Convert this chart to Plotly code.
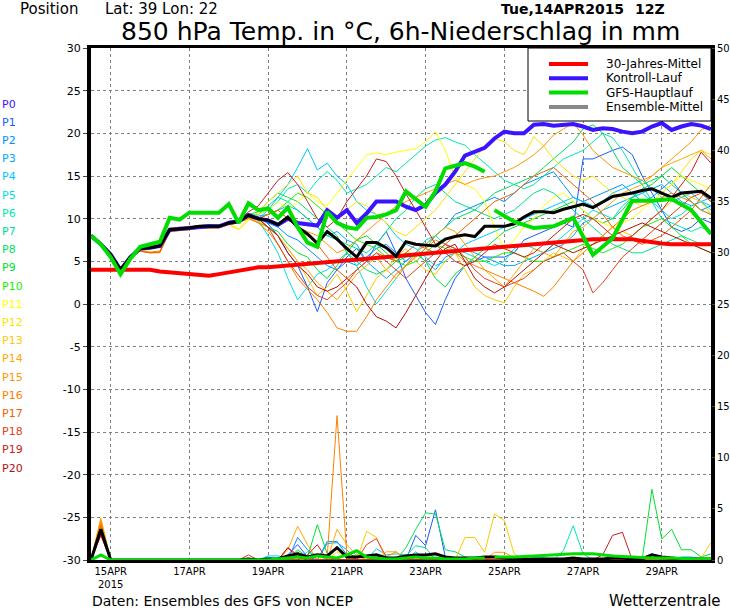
from datetime import datetime, timedelta

import plotly.graph_objects as go

# GFS ensemble run 14APR2015 12Z, 6-hourly values (64 steps)
run_start = datetime(2015, 4, 14, 12)
n_steps = 64

# 30-year climatology (850 hPa temperature)
t_clim = [4.0, 4.0, 4.0, 4.0, 4.0, 4.1, 4.0, 3.8, 3.7, 3.5, 3.5, 3.3, 3.3, 3.5, 3.7, 4.0,
          4.1, 4.3, 4.3, 4.4, 4.5, 4.5, 4.6, 4.7, 4.8, 4.9, 5.0, 5.1, 5.2, 5.3, 5.4, 5.6,
          5.7, 5.8, 5.9, 6.0, 6.1, 6.2, 6.3, 6.4, 6.5, 6.6, 6.7, 6.8, 6.9, 7.0, 7.1, 7.2,
          7.3, 7.4, 7.5, 7.6, 7.6, 7.6, 7.6, 7.6, 7.4, 7.2, 7.1, 7.0, 7.0, 7.0, 7.0, 7.0]

# ensemble mean
t_mean = [8.0, 7.0, 5.8, 4.0, 5.5, 6.5, 6.6, 6.8, 8.7, 8.8, 8.9, 9.1, 9.1, 9.1, 9.5, 9.7,
          10.4, 10.0, 9.8, 9.3, 10.2, 9.0, 8.2, 7.1, 8.5, 7.6, 6.5, 5.5, 7.2, 7.2, 6.6, 5.6,
          7.3, 7.0, 6.9, 6.8, 7.6, 7.9, 8.1, 7.9, 9.1, 9.1, 9.1, 9.4, 10.2, 10.8, 10.8, 10.7,
          11.1, 11.4, 11.7, 11.3, 12.0, 12.6, 12.8, 13.0, 13.3, 13.5, 13.0, 12.5, 13.0, 13.1, 13.2, 12.4]
rain_mean = [0.0, 3.0, 0.0, 0.0, 0.0, 0.0, 0.0, 0.0, 0.0, 0.0, 0.0, 0.0, 0.0, 0.0, 0.0, 0.0,
             0.1, 0.0, 0.1, 0.1, 0.4, 0.6, 0.3, 0.5, 0.4, 1.2, 0.3, 0.3, 0.4, 0.5, 0.2, 0.2,
             0.4, 0.5, 0.5, 0.6, 0.3, 0.2, 0.2, 0.2, 0.3, 0.3, 0.2, 0.1, 0.1, 0.1, 0.1, 0.1,
             0.1, 0.2, 0.1, 0.1, 0.1, 0.2, 0.2, 0.1, 0.1, 0.5, 0.3, 0.2, 0.1, 0.1, 0.1, 0.1]

# control run (P0)
t_control = [8.0, 7.0, 5.8, 4.0, 5.5, 6.5, 6.6, 6.8, 8.7, 8.8, 8.9, 9.1, 9.1, 9.1, 9.5, 9.7,
             10.4, 10.0, 9.8, 9.3, 10.0, 9.5, 9.4, 9.2, 11.0, 10.1, 11.0, 9.5, 10.6, 12.0, 12.0, 12.0,
             11.4, 11.0, 11.6, 13.0, 14.0, 15.5, 17.4, 17.8, 18.3, 19.4, 20.2, 20.0, 20.0, 21.0, 21.1, 20.9,
             21.0, 21.1, 20.8, 20.4, 20.6, 20.5, 20.2, 20.0, 20.2, 20.8, 21.2, 20.4, 20.8, 21.1, 20.9, 20.5]

# GFS operational run: 6-hourly up to 240h, then 12-hourly from 246h
t_gfs = [8.0, 7.0, 5.5, 3.5, 5.3, 6.7, 7.0, 7.3, 10.1, 9.9, 10.7, 10.7, 10.7, 10.7, 11.7, 9.5,
         11.8, 11.0, 11.2, 10.1, 11.3, 9.0, 7.2, 6.7, 10.8, 9.5, 9.0, 8.8, 10.1, 10.2, 10.5, 11.0,
         13.2, 12.3, 11.4, 13.2, 15.9, 16.2, 16.5, 16.1, 15.5]
rain_gfs = [0.0, 0.5, 0.0, 0.0, 0.0, 0.0, 0.0, 0.0, 0.0, 0.0, 0.0, 0.0, 0.0, 0.0, 0.0, 0.0,
            0.0, 0.0, 0.0, 0.1, 0.2, 0.3, 0.2, 0.4, 0.3, 0.2, 0.5, 0.9, 0.3, 0.2, 0.1, 0.1,
            0.2, 0.3, 0.2, 0.2, 0.1, 0.1, 0.1, 0.2, 0.2]
t_gfs_ext = [11.0, 9.65, 8.9, 9.1, 10.1, 5.75, 7.7, 12.1, 12.1, 12.3, 11.0, 8.2]
rain_gfs_ext = [0.3, 0.3, 0.4, 0.5, 0.6, 0.6, 0.4, 0.3, 0.2, 0.2, 0.1, 0.1]

# ensemble members P1..P20 (temperature)
t_p1 = [8.0, 7.0, 5.9, 4.1, 5.6, 6.6, 6.7, 6.9, 8.8, 8.9, 9.0, 9.2, 9.3, 9.2, 9.7, 9.9, 10.6,
        10.2, 9.4, 8.0, 6.0, 4.5, 2.0, -0.9, 2.5, 4.0, 5.5, 6.5, 5.0, 7.0, 8.5, 6.0, 3.0, 1.0, -1.0, -2.4, 0.5, 3.0, 4.5, 5.0, 5.5,
        5.5, 5.5, 6.0, 7.5, 8.0, 8.5, 9.0, 9.5, 9.0, 17.0, 17.0, 17.5, 18.0, 18.4, 17.5, 15.0, 13.0, 11.0, 9.0, 8.5, 9.0, 10.0, 9.5]
t_p2 = [7.9, 6.9, 5.7, 3.9, 5.4, 6.4, 6.5, 6.7, 8.6, 8.7, 8.8, 9.0, 9.0, 9.0, 9.4, 9.6, 10.3,
        10.0, 9.5, 9.0, 8.0, 7.5, 6.5, 5.5, 4.5, 4.0, 5.0, 4.5, 5.5, 6.5, 7.0, 6.0, 5.0, 6.0, 7.0, 8.0, 9.0, 10.5, 11.0, 11.5, 12.0,
        12.5, 12.0, 13.0, 14.0, 14.5, 15.0, 15.5, 14.0, 12.5, 12.0, 12.5, 13.0, 13.5, 14.0, 13.0, 12.0, 12.5, 13.5, 14.5, 13.0, 12.0, 11.0, 11.5]
t_p3 = [8.1, 7.1, 5.8, 4.0, 5.5, 6.5, 6.6, 6.8, 8.7, 8.8, 8.9, 9.1, 9.2, 9.1, 9.6, 9.8, 10.5,
        10.3, 10.5, 11.0, 11.5, 11.0, 10.0, 9.0, 8.0, 8.5, 7.5, 7.0, 5.0, 4.0, 3.0, 4.0, 5.0, 6.0, 5.0, 4.0, 5.5, 6.0, 6.5, 6.0, 5.5,
        5.0, 4.5, 4.5, 5.0, 5.5, 6.0, 6.5, 7.0, 8.0, 9.5, 10.0, 11.0, 11.5, 12.0, 12.5, 13.0, 13.5, 14.0, 13.0, 12.0, 11.5, 12.0, 12.5]
t_p4 = [8.0, 7.0, 5.8, 4.0, 5.5, 6.6, 6.7, 6.9, 8.8, 8.9, 9.0, 9.1, 9.1, 9.1, 9.5, 9.7, 10.3,
        10.0, 11.0, 12.5, 14.0, 16.0, 18.2, 15.7, 16.5, 15.0, 14.0, 12.0, 11.0, 10.5, 9.5, 8.0, 7.0, 6.5, 5.5, 4.5, 5.0, 6.0, 7.0, 7.5, 8.0,
        8.5, 9.0, 9.5, 10.0, 10.5, 11.0, 11.5, 12.0, 12.5, 12.0, 11.5, 12.0, 13.0, 13.5, 14.0, 14.5, 13.5, 12.5, 12.0, 12.5, 13.0, 12.0, 11.5]
t_p5 = [8.0, 7.0, 5.8, 4.1, 5.6, 6.6, 6.7, 6.8, 8.7, 8.8, 8.9, 9.1, 9.1, 9.2, 9.6, 9.8, 10.4,
        9.8, 8.0, 6.0, 3.0, 0.5, 2.0, 3.5, 4.0, 5.0, 6.0, 4.5, 2.0, 0.0, 1.5, 3.0, 4.5, 6.0, 7.5, 8.0, 7.0, 6.5, 6.0, 5.5, 5.0,
        4.5, 5.0, 6.5, 7.0, 6.5, 6.0, 7.0, 8.0, 9.0, 10.0, 11.0, 10.5, 10.0, 11.5, 12.5, 13.0, 12.0, 11.0, 10.0, 10.5, 11.5, 12.0, 11.0]
t_p6 = [8.0, 7.0, 5.8, 4.0, 5.5, 6.5, 6.6, 6.8, 8.7, 8.8, 8.9, 9.1, 9.1, 9.1, 9.5, 9.7, 10.4,
        10.5, 11.0, 12.0, 13.5, 14.0, 13.0, 14.5, 15.5, 14.5, 13.0, 13.5, 14.0, 15.0, 16.0, 15.5, 16.5, 17.5, 18.5, 19.2, 19.5, 19.0, 18.6, 17.5, 16.5,
        15.5, 14.5, 14.0, 13.5, 14.0, 15.0, 16.0, 17.0, 17.5, 18.0, 19.0, 20.0, 19.5, 18.0, 16.0, 14.0, 12.0, 10.0, 9.5, 9.0, 8.5, 9.0, 8.5]
t_p7 = [8.0, 7.0, 5.8, 4.0, 5.5, 6.5, 6.6, 6.7, 8.6, 8.7, 8.8, 9.0, 9.0, 9.0, 9.4, 9.6, 10.3,
        10.5, 11.5, 12.5, 12.0, 11.0, 10.0, 9.0, 8.0, 7.5, 7.0, 6.5, 6.0, 7.0, 8.5, 10.0, 11.0, 12.5, 13.5, 14.0, 13.0, 12.0, 11.5, 11.0, 10.5,
        10.0, 10.5, 11.0, 12.0, 13.0, 13.5, 13.0, 12.0, 11.0, 10.0, 9.0, 8.0, 7.0, 6.5, 6.0, 6.0, 6.5, 7.0, 7.5, 8.0, 7.5, 7.0, 7.0]
t_p8 = [8.0, 7.0, 5.8, 4.0, 5.6, 6.6, 6.7, 6.9, 8.8, 8.9, 9.0, 9.2, 9.2, 9.2, 9.6, 9.8, 10.5,
        10.8, 12.0, 13.0, 12.5, 12.0, 11.0, 10.0, 9.0, 8.0, 6.0, 5.0, 4.0, 3.5, 4.0, 5.0, 6.0, 5.5, 6.5, 8.0, 9.0, 10.0, 10.5, 11.0, 12.0,
        13.0, 13.5, 14.0, 14.5, 15.0, 16.0, 17.0, 18.0, 19.0, 20.5, 21.0, 20.0, 18.0, 16.0, 15.0, 14.0, 14.5, 15.0, 14.0, 13.0, 12.0, 11.0, 10.5]
t_p9 = [7.9, 6.9, 5.7, 3.9, 5.4, 6.4, 6.5, 6.7, 8.6, 8.7, 8.8, 9.0, 9.0, 9.0, 9.4, 9.6, 10.2,
        9.5, 9.0, 8.5, 7.0, 6.0, 5.5, 4.0, 3.0, 4.5, 6.0, 7.5, 8.0, 7.0, 6.0, 5.0, 5.5, 6.0, 5.0, 3.0, 2.0, 3.5, 4.5, 5.5, 6.5,
        7.5, 8.5, 9.0, 9.5, 10.0, 10.5, 11.0, 11.5, 12.0, 11.0, 10.0, 9.5, 10.0, 11.0, 12.5, 13.5, 14.0, 15.0, 16.0, 15.0, 14.0, 13.0, 12.0]
t_p10 = [8.0, 7.0, 5.8, 4.0, 5.5, 6.5, 6.6, 6.8, 8.7, 8.8, 8.9, 9.1, 9.1, 9.1, 9.5, 9.7, 10.4,
         10.0, 10.5, 11.0, 12.0, 13.0, 12.5, 11.5, 10.5, 9.5, 8.5, 7.5, 7.0, 6.5, 5.5, 5.0, 4.5, 5.0, 6.0, 7.0, 6.5, 6.0, 5.5, 5.0, 5.0,
         5.5, 6.0, 6.0, 5.5, 5.0, 5.0, 5.5, 6.0, 6.5, 7.0, 6.5, 6.0, 6.5, 7.0, 8.0, 9.0, 9.5, 10.0, 9.0, 8.0, 7.0, 6.5, 6.0]
t_p11 = [8.1, 7.1, 5.9, 4.1, 5.6, 6.7, 6.8, 7.0, 8.8, 8.9, 9.0, 9.2, 9.2, 9.1, 9.4, 8.8, 10.0,
         10.5, 11.0, 12.0, 11.0, 12.0, 13.0, 12.0, 11.5, 13.0, 14.5, 16.0, 17.5, 17.7, 17.5, 17.8, 18.0, 18.2, 19.0, 20.2, 18.0, 14.8, 14.0, 13.5, 12.0,
         9.0, 6.3, 7.5, 9.0, 10.0, 11.5, 12.5, 13.0, 12.0, 11.0, 10.0, 9.5, 9.0, 9.5, 10.0, 11.0, 12.0, 13.0, 14.0, 15.0, 14.5, 14.0, 13.5]
t_p12 = [8.0, 7.0, 5.9, 4.2, 5.7, 6.7, 6.8, 7.0, 8.9, 9.0, 9.1, 9.2, 9.1, 9.0, 9.3, 8.7, 9.8,
         10.8, 12.0, 13.0, 14.0, 15.0, 13.0, 12.5, 11.0, 10.0, 11.0, 12.0, 11.5, 10.5, 9.5, 8.5, 8.0, 9.0, 10.0, 11.0, 12.5, 14.0, 15.5, 17.0, 18.5,
         19.4, 19.0, 18.0, 17.5, 19.6, 18.5, 17.0, 16.0, 15.0, 14.5, 15.0, 14.0, 13.0, 12.5, 12.0, 11.5, 12.0, 13.0, 14.0, 15.5, 17.0, 18.0, 17.5]
t_p13 = [8.0, 7.0, 5.8, 4.0, 5.5, 6.4, 6.5, 6.7, 8.6, 8.7, 8.8, 9.0, 9.0, 9.0, 9.4, 9.5, 10.2,
         9.8, 9.0, 8.0, 6.5, 5.0, 3.0, 1.0, 2.0, 3.5, 1.5, -0.9, 1.0, 3.0, 4.0, 5.5, 6.5, 5.0, 4.0, 3.5, 5.0, 6.0, 4.0, 2.0, 1.0,
         0.5, 0.15, 2.0, 3.5, 4.0, 5.0, 6.0, 5.5, 5.0, 6.5, 7.0, 8.0, 9.0, 8.5, 8.0, 9.0, 10.0, 11.0, 12.0, 13.0, 12.5, 12.0, 10.5]
t_p14 = [7.9, 6.9, 5.7, 4.0, 5.4, 6.2, 6.0, 6.1, 8.5, 8.6, 8.7, 8.9, 8.9, 8.9, 9.3, 9.5, 10.1,
         9.6, 9.0, 8.0, 6.5, 5.0, 4.0, 2.5, 1.5, 0.5, 2.0, 3.5, 4.5, 5.5, 4.0, 3.0, 4.5, 6.0, 7.0, 8.0, 9.0, 8.5, 7.0, 5.5, 4.0,
         3.0, 2.0, 3.5, 5.0, 6.5, 6.0, 5.5, 7.0, 8.5, 9.0, 10.0, 11.0, 12.0, 13.0, 13.5, 14.0, 15.0, 16.0, 16.5, 17.0, 17.5, 18.0, 17.0]
t_p15 = [8.0, 7.0, 5.8, 4.0, 5.5, 6.3, 6.1, 6.2, 8.6, 8.7, 8.8, 9.0, 9.0, 9.0, 9.4, 9.6, 10.2,
         10.0, 10.5, 11.0, 10.0, 9.0, 8.5, 8.0, 7.0, 6.0, 6.5, 7.5, 8.5, 9.5, 10.5, 11.5, 12.0, 12.5, 13.0, 13.5, 14.0, 14.5, 14.0, 14.5, 14.8,
         15.0, 15.5, 16.0, 16.7, 17.5, 18.5, 19.8, 20.5, 21.2, 19.8, 18.0, 17.0, 16.0, 15.5, 15.0, 14.5, 15.0, 16.0, 17.0, 18.0, 19.0, 20.4, 21.0]
t_p16 = [7.9, 6.9, 5.8, 4.0, 5.4, 6.2, 6.0, 6.0, 8.5, 8.6, 8.7, 8.9, 8.9, 8.9, 9.3, 9.5, 10.0,
         9.5, 8.5, 7.0, 5.0, 3.0, 1.7, 0.5, -1.0, -2.8, -3.2, -3.2, -1.5, 0.5, 2.0, 3.5, 4.5, 5.5, 6.5, 7.5, 7.0, 6.0, 5.0, 4.5, 4.0,
         3.5, 3.0, 2.5, 2.0, 1.5, 0.9, 2.0, 3.5, 5.0, 6.0, 7.0, 8.0, 9.0, 10.0, 11.0, 11.5, 12.0, 12.5, 13.0, 12.5, 12.0, 11.0, 10.5]
t_p17 = [8.0, 7.0, 5.8, 4.0, 5.5, 6.2, 6.0, 6.1, 8.6, 8.7, 8.8, 9.0, 9.0, 9.0, 9.4, 9.6, 10.3,
         10.0, 10.5, 11.0, 10.0, 9.0, 8.0, 7.0, 5.5, 4.0, 3.0, 4.0, 5.0, 6.0, 5.5, 5.0, 6.0, 7.0, 6.5, 6.0, 7.0, 8.0, 9.0, 10.0, 11.0,
         12.0, 12.5, 13.0, 14.0, 15.0, 15.5, 16.0, 15.0, 14.0, 13.0, 12.0, 10.5, 9.0, 8.0, 7.5, 7.0, 7.5, 8.0, 9.0, 10.0, 11.0, 12.5, 14.0]
t_p18 = [8.0, 7.0, 5.8, 4.0, 5.5, 6.5, 6.6, 6.8, 8.7, 8.8, 8.9, 9.1, 9.1, 9.1, 9.5, 9.7, 10.4,
         10.0, 9.0, 7.0, 5.0, 3.5, 2.0, 1.0, 0.5, 1.5, 2.5, 4.0, 5.0, 6.0, 5.0, 4.0, 3.0, 4.0, 5.0, 6.0, 7.0, 6.5, 5.5, 4.0, 3.0,
         2.5, 2.0, 2.5, 3.0, 4.0, 5.0, 5.5, 6.0, 5.0, 4.0, 1.3, 2.5, 4.0, 5.5, 6.5, 7.5, 8.5, 9.5, 10.5, 11.5, 12.5, 13.0, 12.0]
t_p19 = [8.0, 7.0, 5.8, 4.0, 5.5, 6.5, 6.6, 6.8, 8.7, 8.8, 8.9, 9.1, 9.1, 9.1, 9.5, 9.8, 10.8,
         11.5, 13.0, 14.5, 15.4, 14.0, 12.0, 10.0, 9.0, 10.0, 12.0, 13.5, 15.0, 17.0, 16.7, 15.0, 12.9, 11.0, 9.0, 7.0, 6.0, 5.0, 4.5, 5.0, 6.0,
         7.0, 6.5, 6.0, 5.5, 6.0, 7.0, 8.0, 9.0, 10.0, 10.5, 10.0, 9.0, 8.0, 7.5, 8.0, 9.0, 10.0, 11.0, 12.5, 14.0, 15.5, 17.8, 16.5]
t_p20 = [8.0, 7.0, 5.8, 4.0, 5.5, 6.5, 6.6, 6.8, 8.7, 8.8, 8.9, 9.1, 9.1, 9.1, 9.5, 9.7, 10.4,
         10.0, 9.0, 8.0, 6.0, 4.5, 3.5, 2.0, 1.5, 2.0, 3.0, 2.0, 0.0, -1.5, -2.0, -2.8, -1.0, 1.0, 3.0, 5.0, 6.5, 7.0, 5.0, 3.0, 2.0,
         1.3, 2.0, 3.0, 4.0, 5.0, 6.0, 7.0, 6.5, 6.0, 6.5, 7.0, 7.5, 8.0, 8.5, 9.0, 9.5, 9.0, 8.5, 8.0, 7.5, 7.0, 6.5, 6.0]

# member 6h precipitation, {step index: mm}; all other steps are dry
rain_p1 = {1: 3.0, 20: 0.5, 21: 1.5, 22: 0.3, 33: 2.4, 34: 1.4, 35: 4.9, 36: 0.3}
rain_p2 = {1: 2.8, 21: 2.2, 22: 1.0, 24: 1.8, 25: 1.8, 26: 0.5}
rain_p3 = {1: 3.2, 24: 1.6, 25: 1.7, 26: 1.0, 33: 0.8}
rain_p4 = {1: 2.9, 18: 0.4, 19: 0.4, 20: 0.2, 29: 1.1, 30: 0.5, 31: 0.6, 32: 0.5, 60: 0.3, 61: 0.3, 62: 0.1}
rain_p5 = {1: 3.1, 18: 0.3, 22: 0.8, 23: 0.5, 45: 0.2, 46: 0.2}
rain_p6 = {1: 2.7, 48: 0.9, 49: 3.35, 50: 0.6, 53: 0.5, 54: 0.2}
rain_p7 = {1: 3.0, 32: 0.4, 33: 1.4, 34: 1.2}
rain_p8 = {1: 2.9, 32: 1.2, 33: 3.0, 34: 4.6, 35: 4.5, 36: 1.0, 37: 0.8, 38: 0.3}
rain_p9 = {1: 2.8, 21: 1.0, 22: 0.3, 23: 3.45, 24: 0.6, 57: 6.9, 58: 2.05, 59: 3.0, 60: 1.0, 61: 1.0, 62: 0.3, 63: 0.6}
rain_p10 = {1: 3.0, 21: 0.8, 27: 0.6}
rain_p11 = {1: 3.3, 24: 0.5, 41: 0.3}
rain_p12 = {1: 3.5, 21: 0.7, 25: 0.8, 26: 0.3}
rain_p13 = {1: 3.8, 28: 2.8, 29: 2.2, 38: 2.2, 39: 2.2, 40: 0.75, 41: 4.5, 42: 3.85, 43: 0.6, 62: 0.2, 63: 1.7}
rain_p14 = {1: 4.1, 20: 1.0, 21: 3.3, 22: 1.5, 25: 3.0, 26: 1.5, 27: 0.4, 30: 0.8, 31: 0.8}
rain_p15 = {1: 3.9, 30: 0.3, 31: 0.8, 41: 0.75, 42: 0.75, 43: 0.2}
rain_p16 = {1: 3.7, 23: 0.5, 24: 0.3, 25: 14.1, 26: 0.5}
rain_p17 = {1: 3.4, 29: 0.5, 30: 0.3}
rain_p18 = {1: 2.6, 16: 0.5, 20: 1.2, 21: 0.5, 28: 1.5, 29: 2.1, 30: 0.3}
rain_p19 = {1: 2.4, 22: 0.5, 23: 1.5, 52: 0.5, 53: 2.4, 54: 2.7, 57: 0.5, 58: 0.2}
rain_p20 = {1: 2.5, 20: 1.2, 21: 0.3, 56: 0.2, 57: 0.6}

member_names = ["P0", "P1", "P2", "P3", "P4", "P5", "P6", "P7", "P8", "P9", "P10",
                "P11", "P12", "P13", "P14", "P15", "P16", "P17", "P18", "P19", "P20"]
member_colors = ["#3a14ff", "#1a5cff", "#0090ff", "#00aaff", "#00c8ff", "#00e0e0",
                 "#00e8b0", "#00e090", "#00e060", "#00e030", "#20f000", "#ffff00",
                 "#ffe000", "#ffc800", "#ffaa00", "#ff9600", "#ff8000", "#f06000",
                 "#e04020", "#c82020", "#b01010"]

legend_names = ["30-Jahres-Mittel", "Kontroll-Lauf", "GFS-Hauptlauf", "Ensemble-Mittel"]
legend_colors = ["#ff0000", "#3a14ff", "#00dd00", "#888888"]

tick_days = [datetime(2015, 4, d) for d in (15, 17, 19, 21, 23, 25, 27, 29)]
tick_text = ["15APR<br>2015", "17APR", "19APR", "21APR", "23APR", "25APR", "27APR", "29APR"]
temp_ticks = list(range(-30, 31, 5))
rain_ticks = list(range(0, 51, 5))

FONT = "DejaVu Sans, sans-serif"


def times(values, step_hours=6, first_step=0):
    return [run_start + timedelta(hours=6 * first_step + step_hours * k)
            for k in range(len(values))]


def rain_series(spikes):
    return [spikes.get(k, 0.0) for k in range(n_steps)]


member_temps = [t_p1, t_p2, t_p3, t_p4, t_p5, t_p6, t_p7, t_p8, t_p9, t_p10,
                t_p11, t_p12, t_p13, t_p14, t_p15, t_p16, t_p17, t_p18, t_p19, t_p20]
member_rain = [rain_p1, rain_p2, rain_p3, rain_p4, rain_p5, rain_p6, rain_p7, rain_p8,
               rain_p9, rain_p10, rain_p11, rain_p12, rain_p13, rain_p14, rain_p15,
               rain_p16, rain_p17, rain_p18, rain_p19, rain_p20]

fig = go.Figure()

# thin member lines
for temps, rain, color in zip(member_temps, member_rain, member_colors[1:]):
    fig.add_trace(go.Scatter(x=times(temps), y=temps, mode="lines",
                             line=dict(color=color, width=1)))
    rr = rain_series(rain)
    fig.add_trace(go.Scatter(x=times(rr), y=rr, mode="lines", yaxis="y2",
                             line=dict(color=color, width=1)))

# thick lines: climatology, control, mean on top of it, then the main run
fig.add_trace(go.Scatter(x=times(t_clim), y=t_clim, mode="lines",
                         line=dict(color=legend_colors[0], width=4)))
fig.add_trace(go.Scatter(x=times(t_control), y=t_control, mode="lines",
                         line=dict(color=legend_colors[1], width=4)))
fig.add_trace(go.Scatter(x=times(t_mean), y=t_mean, mode="lines",
                         line=dict(color="black", width=3)))
fig.add_trace(go.Scatter(x=times(rain_mean), y=rain_mean, mode="lines", yaxis="y2",
                         line=dict(color="black", width=3)))
fig.add_trace(go.Scatter(x=times(t_gfs), y=t_gfs, mode="lines",
                         line=dict(color=legend_colors[2], width=4)))
fig.add_trace(go.Scatter(x=times(t_gfs_ext, 12, 41), y=t_gfs_ext, mode="lines",
                         line=dict(color=legend_colors[2], width=4)))
fig.add_trace(go.Scatter(x=times(rain_gfs), y=rain_gfs, mode="lines", yaxis="y2",
                         line=dict(color=legend_colors[2], width=3)))
fig.add_trace(go.Scatter(x=times(rain_gfs_ext, 12, 41), y=rain_gfs_ext, mode="lines",
                         yaxis="y2", line=dict(color=legend_colors[2], width=3)))


# page pixels -> paper coordinates (plot box 91..711 x 48..560)
def px_x(x):
    return (x - 91) / 620


def px_y(y):
    return (560 - y) / 512


def text(s, x, y, size, anchor="left", color="black"):
    fig.add_annotation(text=s, x=px_x(x), y=px_y(y), xref="paper", yref="paper",
                       xanchor=anchor, yanchor="middle", showarrow=False,
                       font=dict(family=FONT, size=size, color=color))


# header / footer
text("Position", 18, 8.5, 15)
text("Lat: 39 Lon: 22", 103, 8.5, 15)
text("<b>Tue,14APR2015</b>", 626, 8.5, 14, "right")
text("<b>12Z</b>", 633, 8.5, 14)
text("850 hPa Temp. in °C, 6h-Niederschlag in mm", 400, 31, 25, "center")
text("Daten: Ensembles des GFS von NCEP", 90, 601, 14)
text("Wetterzentrale", 723, 601, 15, "right")

# member labels on the left
for k, (name, color) in enumerate(zip(member_names, member_colors)):
    text(name, 0, 104 + 18.2 * k, 11, color=color)

# legend box (drawn by hand, the mean is shown grey there)
fig.add_shape(type="rect", xref="paper", yref="paper", x0=px_x(528), x1=px_x(711),
              y0=px_y(121), y1=px_y(48), fillcolor="white", line=dict(color="black", width=1))
for k, (name, color) in enumerate(zip(legend_names, legend_colors)):
    ry = 64 + 14.3 * k
    fig.add_shape(type="line", xref="paper", yref="paper", x0=px_x(549), x1=px_x(588),
                  y0=px_y(ry), y1=px_y(ry), line=dict(color=color, width=4))
    text(name, 604, ry, 12)

fig.update_layout(
    width=730, height=609,
    margin=dict(l=91, r=19, t=48, b=49, autoexpand=False),
    paper_bgcolor="white", plot_bgcolor="white",
    showlegend=False,
    font=dict(family=FONT, size=11, color="black"),
    xaxis=dict(type="date", range=[run_start, run_start + timedelta(hours=378)],
               tickvals=tick_days, ticktext=tick_text, ticks="", automargin=False,
               tickfont=dict(size=10),
               showline=True, linewidth=3, linecolor="black", mirror=True,
               showgrid=True, gridcolor="#808080", griddash="dot", gridwidth=1),
    yaxis=dict(range=[-30, 30], tickvals=temp_ticks, ticktext=[str(v) for v in temp_ticks],
               ticks="outside", ticklen=4, tickfont=dict(size=11), automargin=False,
               showline=True, linewidth=4, linecolor="black", mirror=True,
               showgrid=True, gridcolor="#808080", griddash="dot", gridwidth=1,
               zeroline=False),
    yaxis2=dict(range=[0, 50], tickvals=rain_ticks, ticktext=[str(v) for v in rain_ticks],
                overlaying="y", side="right", tickfont=dict(size=10), automargin=False,
                ticks="outside", ticklen=3, showgrid=False, zeroline=False),
)

# the page has a default 8px body margin; remove it so the figure sits at 0,0
fig.write_html("out.html", config={"displayModeBar": False},
               post_script="document.body.style.margin = '0px';")
